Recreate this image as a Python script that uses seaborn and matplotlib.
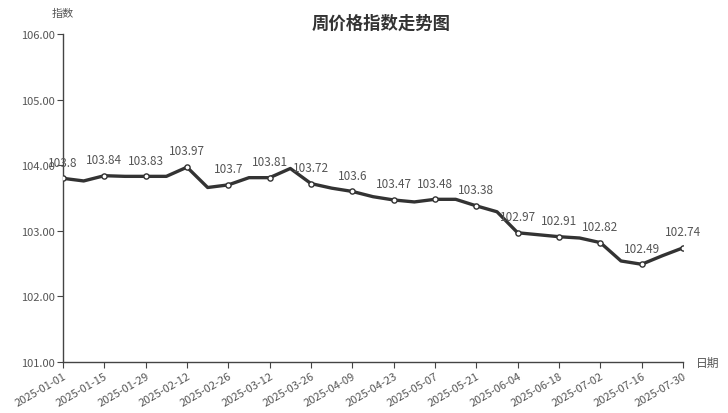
import matplotlib
matplotlib.use("Agg")
import matplotlib.pyplot as plt
import seaborn as sns
import pandas as pd
import numpy as np

dates = pd.date_range("2025-01-01", "2025-07-30", freq="7D")
values = [103.80, 103.76, 103.84, 103.83, 103.83, 103.83, 103.97, 103.66,
          103.70, 103.81, 103.81, 103.95, 103.72, 103.65, 103.60, 103.52,
          103.47, 103.44, 103.48, 103.48, 103.38, 103.29, 102.97, 102.94,
          102.91, 102.89, 102.82, 102.54, 102.49, 102.62, 102.74]
title = "周价格指数走势图"
ylabel = "指数"
xlabel = "日期"
yticks = [101, 102, 103, 104, 105, 106]

sns.set_theme(style="white")
plt.rcParams['font.family'] = ['Noto Sans CJK SC', 'DejaVu Sans']

df = pd.DataFrame({"date": dates, "value": values})
df["i"] = np.arange(len(df))
lab = df[df["i"] % 2 == 0]

fig = plt.figure(figsize=(7.28, 4.14), dpi=100)
ax = fig.add_axes([63/728, 1 - 363/414, 620/728, 328/414])

sns.lineplot(data=df, x="date", y="value", ax=ax, color="#333333", linewidth=2.4, zorder=2)
sns.scatterplot(data=lab, x="date", y="value", ax=ax, s=14, color="white",
                edgecolor="#333333", linewidth=1.0, zorder=3)

for d, v in zip(lab["date"], lab["value"]):
    ax.annotate(f"{v:g}", (d, v), xytext=(0, 7), textcoords="offset points",
                ha="center", va="bottom", fontsize=8.5, color="#555555")

ax.set_xlim(dates[0], dates[-1])
ax.set_ylim(101, 106)
ax.set_yticks(yticks)
ax.set_yticklabels([f"{t:.2f}" for t in yticks], fontsize=8, color="#555555")
ax.set_xticks(dates[::2])
ax.set_xticklabels([d.strftime("%Y-%m-%d") for d in dates[::2]], rotation=30,
                   ha="right", rotation_mode="anchor", fontsize=8, color="#555555")
ax.tick_params(axis="both", which="both", length=4, width=0.8, color="#444444",
               bottom=True, left=True, pad=2)
ax.set_xlabel("")
ax.set_ylabel("")
for s in ["top", "right"]:
    ax.spines[s].set_visible(False)
for s in ["left", "bottom"]:
    ax.spines[s].set_color("#444444")
    ax.spines[s].set_linewidth(1.0)
ax.grid(False)

fig.text(381/728, 1 - 24/414, title, ha="center", va="center", fontsize=12.5,
         fontweight="bold", color="#333333")
fig.text(63/728, 1 - 14/414, ylabel, ha="center", va="center", fontsize=8, color="#555555")
fig.text(708/728, 1 - 363/414, xlabel, ha="center", va="center", fontsize=8.5, color="#555555")

fig.savefig("out.png", dpi=100)
